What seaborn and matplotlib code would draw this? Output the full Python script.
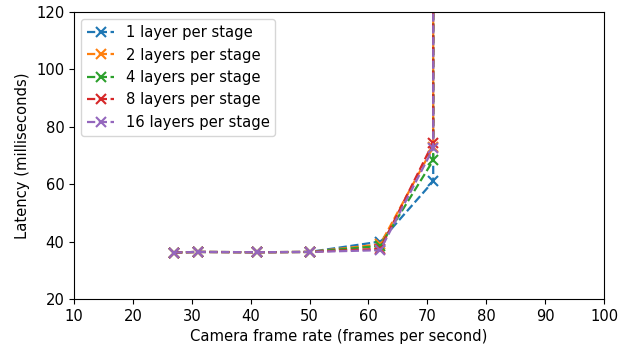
import numpy as np
import pandas as pd
import matplotlib
matplotlib.use("Agg")
import matplotlib.pyplot as plt
import seaborn as sns

# frame rates (fps) and measured latencies (ms); last point saturates off the chart
frame_rate = [27, 31, 41, 50, 62, 71, 71]

lat_1 = [36.2, 36.4, 36.3, 36.4, 40.0, 61.0, 1000]
lat_2 = [36.2, 36.4, 36.3, 36.4, 39.0, 73.0, 1000]
lat_4 = [36.2, 36.4, 36.3, 36.4, 38.5, 68.3, 1000]
lat_8 = [36.2, 36.4, 36.3, 36.4, 37.5, 74.5, 1000]
lat_16 = [36.2, 36.4, 36.3, 36.4, 37.0, 72.5, 1000]

labels = [
    "1 layer per stage",
    "2 layers per stage",
    "4 layers per stage",
    "8 layers per stage",
    "16 layers per stage",
]
series = [lat_1, lat_2, lat_4, lat_8, lat_16]

rows = []
for lab, vals in zip(labels, series):
    for i, (x, y) in enumerate(zip(frame_rate, vals)):
        rows.append({"fps": x, "latency": y, "config": lab, "order": i})
df = pd.DataFrame(rows)

FS = 10.6

fig = plt.figure(figsize=(6.29, 3.49), dpi=100)
ax = fig.add_axes([74 / 629, 50 / 349, 530 / 629, 287 / 349])

palette = sns.color_palette("tab10", 5)

for lab, col in zip(labels, palette):
    sub = df[df["config"] == lab].sort_values("order")
    sns.lineplot(
        data=sub,
        x="fps",
        y="latency",
        ax=ax,
        color=col,
        marker="x",
        markersize=7,
        markeredgewidth=1.5,
        markeredgecolor=col,
        linestyle="--",
        linewidth=1.6,
        sort=False,
        estimator=None,
        label=lab,
    )

ax.set_xlim(10, 100)
ax.set_ylim(20, 120)
ax.set_xticks(np.arange(10, 101, 10))
ax.set_yticks(np.arange(20, 121, 20))
ax.tick_params(labelsize=FS)
ax.set_xlabel("Camera frame rate (frames per second)", fontsize=FS)
ax.set_ylabel("Latency (milliseconds)", fontsize=FS)

ax.legend(loc="upper left", fontsize=FS, handlelength=1.8)

fig.savefig("out.png", dpi=100)
